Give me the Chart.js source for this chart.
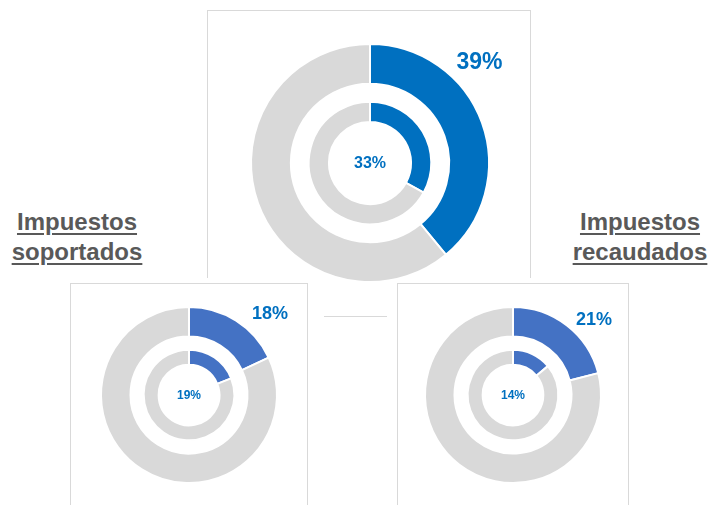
<!DOCTYPE html>
<html>
<head>
<meta charset="utf-8">
<script src="https://cdn.jsdelivr.net/npm/chart.js@4/dist/chart.umd.min.js"></script>
<style>
  body { margin: 0; background: #fff; width: 710px; height: 505px; overflow: hidden; position: relative; font-family: "Liberation Sans", Arial, sans-serif; }
  .panel { position: absolute; border: 1px solid #d9d9d9; border-bottom: none; box-sizing: border-box; }
  .title { position: absolute; color: #595959; font-weight: bold; font-size: 24px; line-height: 30px; text-align: center; text-decoration: underline; text-underline-offset: 3px; }
  canvas { position: absolute; }
  .sep { position: absolute; left: 324px; top: 316px; width: 63px; height: 1px; background: #d9d9d9; }
</style>
</head>
<body>
<div class="panel" style="left:207px;top:10px;width:324px;height:268px;"></div>
<div class="panel" style="left:70px;top:283px;width:238px;height:230px;"></div>
<div class="panel" style="left:397px;top:283px;width:232px;height:230px;"></div>
<div class="sep"></div>
<div class="title" style="left:-3px;top:207px;width:160px;">Impuestos<br>soportados</div>
<div class="title" style="left:560px;top:207px;width:160px;">Impuestos<br>recaudados</div>

<canvas id="chartTotal" width="280" height="280" style="left:230px;top:23px;"></canvas>
<canvas id="chartSoportados" width="220" height="220" style="left:79px;top:285px;"></canvas>
<canvas id="chartRecaudados" width="220" height="220" style="left:403px;top:285px;"></canvas>

<script>
// porcentajes (anillo exterior / anillo interior)
const charts = ["total", "soportados", "recaudados"];
const outerValues = [39, 18, 21];
const innerValues = [33, 19, 14];
const outerLabels = ["39%", "18%", "21%"];
const innerLabels = ["33%", "19%", "14%"];

const GRAY = "#d9d9d9";
const LABEL_BLUE = "#0070c0";

// dibuja las etiquetas de porcentaje
const labelsPlugin = {
  id: "pctLabels",
  afterDraw(chart, args, opts) {
    const meta = chart.getDatasetMeta(0);
    const arc = meta.data[0];
    if (!arc) return;
    const { x, y, outerRadius } = arc.getProps(["x", "y", "outerRadius"], true);
    const ctx = chart.ctx;
    ctx.save();
    ctx.fillStyle = LABEL_BLUE;
    ctx.textAlign = "center";
    ctx.textBaseline = "middle";
    ctx.font = "bold " + opts.bigSize + "px 'Liberation Sans', Arial, sans-serif";
    ctx.fillText(opts.outer, x + outerRadius * opts.dx, y + outerRadius * opts.dy);
    ctx.font = "bold " + opts.smallSize + "px 'Liberation Sans', Arial, sans-serif";
    ctx.fillText(opts.inner, x, y + 1);
    ctx.restore();
  },
};

function makeChart(canvasId, i, color, radius, bigSize, smallSize, dy) {
  const ctx = document.getElementById(canvasId).getContext("2d");
  new Chart(ctx, {
    type: "doughnut",
    data: {
      labels: ["valor", "resto"],
      datasets: [
        {
          data: [outerValues[i], 100 - outerValues[i]],
          backgroundColor: [color, GRAY],
          borderColor: "#fff",
          borderWidth: 2,
          weight: 33.5,
        },
        {
          // hueco entre anillos
          data: [1],
          backgroundColor: "rgba(0,0,0,0)",
          borderWidth: 0,
          weight: 15,
        },
        {
          data: [innerValues[i], 100 - innerValues[i]],
          backgroundColor: [color, GRAY],
          borderColor: "#fff",
          borderWidth: 2,
          weight: 17,
        },
      ],
    },
    options: {
      responsive: false,
      animation: false,
      cutout: "34.5%",
      radius: radius,
      layout: { padding: 0 },
      plugins: {
        legend: { display: false },
        tooltip: { enabled: false },
        pctLabels: {
          outer: outerLabels[i],
          inner: innerLabels[i],
          bigSize: bigSize,
          smallSize: smallSize,
          dx: 0.92,
          dy: dy,
        },
      },
    },
    plugins: [labelsPlugin],
  });
}

makeChart("chartTotal", 0, "#0070c0", 119, 23, 16, -0.84);
makeChart("chartSoportados", 1, "#4472c4", 88, 18, 12, -0.92);
makeChart("chartRecaudados", 2, "#4472c4", 88, 18, 12, -0.85);
</script>
</body>
</html>
